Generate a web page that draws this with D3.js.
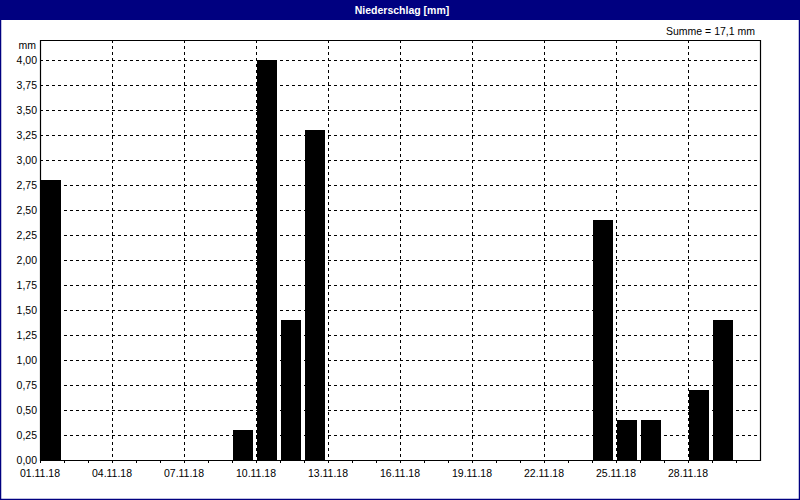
<!DOCTYPE html>
<html>
<head>
<meta charset="utf-8">
<script src="https://cdn.jsdelivr.net/npm/d3@7"></script>
<style>
  body { margin: 0; background: #fff; }
  svg { display: block; font-family: "Liberation Sans", Arial, sans-serif; }
</style>
</head>
<body>
<svg id="mainSvg" width="800" height="500"></svg>
<script>
// Niederschlag November 2018, daily sums in mm (0 = no rain)
let days = d3.range(1, 31).map(d => new Date(2018, 10, d));
let rain = [2.8, 0, 0, 0, 0, 0, 0, 0, 0.3, 4.0,
            1.4, 3.3, 0, 0, 0, 0, 0, 0, 0, 0,
            0, 0, 0, 2.4, 0.4, 0.4, 0, 0.7, 1.4, 0];
let yTicks = d3.range(0, 4.01, 0.25);
let labelDays = [1, 4, 7, 10, 13, 16, 19, 22, 25, 28];

let svg = d3.select('#mainSvg');
let W = 800, H = 500;
let m = {left: 40, right: 40, top: 40, bottom: 40};
let fs = 10.5;

let fmtNum = v => v.toFixed(2).replace('.', ',');
let fmtDay = d3.timeFormat('%d.%m.%y');

let x = d3.scaleTime()
  .domain([new Date(2018, 10, 1), new Date(2018, 11, 1)])
  .range([m.left, W - m.right]);
let y = d3.scaleLinear()
  .domain([0, 4.2])
  .range([H - m.bottom, m.top]);
let dayW = x(days[1]) - x(days[0]);

// window frame + title bar
svg.append('rect')
  .attr('x', 0.5).attr('y', 0.5)
  .attr('width', W - 1).attr('height', H - 1)
  .attr('fill', '#fff')
  .attr('stroke', '#000080')
  .attr('stroke-width', 1.5);
svg.append('rect')
  .attr('x', 0).attr('y', 0)
  .attr('width', W).attr('height', 20)
  .attr('fill', '#000080');
svg.append('text')
  .attr('x', W / 2 + 2).attr('y', 14)
  .attr('text-anchor', 'middle')
  .attr('fill', '#fff')
  .attr('font-weight', 'bold')
  .attr('font-size', fs)
  .text('Niederschlag [mm]');

svg.append('text')
  .attr('x', 755).attr('y', 35)
  .attr('text-anchor', 'end')
  .attr('font-size', fs)
  .text('Summe = ' + d3.sum(rain).toFixed(1).replace('.', ',') + ' mm');

svg.append('text')
  .attr('x', 36).attr('y', 49)
  .attr('text-anchor', 'end')
  .attr('font-size', fs)
  .text('mm');

// grid
let grid = svg.append('g')
  .attr('stroke', '#000')
  .attr('stroke-dasharray', '3,3');
grid.selectAll('.hg').data(yTicks.filter(v => v > 0))
  .join('line')
  .attr('x1', m.left).attr('x2', W - m.right)
  .attr('y1', d => Math.round(y(d)) + 0.5)
  .attr('y2', d => Math.round(y(d)) + 0.5);
grid.selectAll('.vg').data(labelDays.slice(1))
  .join('line')
  .attr('x1', d => Math.round(x(days[d - 1])) + 0.5)
  .attr('x2', d => Math.round(x(days[d - 1])) + 0.5)
  .attr('y1', m.top).attr('y2', H - m.bottom);

// bars
svg.append('g').selectAll('rect')
  .data(rain.map((v, i) => ({day: days[i], v: v})).filter(d => d.v > 0))
  .join('rect')
  .attr('x', d => x(d.day) + 1)
  .attr('width', dayW - 4)
  .attr('y', d => y(d.v))
  .attr('height', d => y(0) - y(d.v))
  .attr('fill', '#000');

// plot frame
svg.append('path')
  .attr('d', `M${m.left + 0.5},${H - m.bottom + 0.5}V${m.top + 0.5}H${W - m.right + 0.5}V${H - m.bottom + 0.5}Z`)
  .attr('fill', 'none')
  .attr('stroke', '#000')
  .attr('stroke-width', 1.2);

// y axis
let yAxis = svg.append('g')
  .attr('transform', `translate(${m.left},0)`)
  .call(d3.axisLeft(y).tickValues(yTicks).tickFormat(fmtNum).tickSize(0).tickPadding(3));
yAxis.select('.domain').remove();
yAxis.selectAll('text').attr('font-size', fs).attr('font-family', null).attr('fill', '#000');

// x axis
let xAxis = svg.append('g')
  .attr('transform', `translate(0,${H - m.bottom})`)
  .call(d3.axisBottom(x).tickValues(days).tickSize(3).tickFormat(''));
xAxis.select('.domain').remove();
xAxis.selectAll('line').attr('stroke', '#000');
svg.append('g').selectAll('text')
  .data(labelDays)
  .join('text')
  .attr('x', d => x(days[d - 1]))
  .attr('y', H - m.bottom + 17)
  .attr('text-anchor', 'middle')
  .attr('font-size', fs)
  .text(d => fmtDay(days[d - 1]));
</script>
</body>
</html>
